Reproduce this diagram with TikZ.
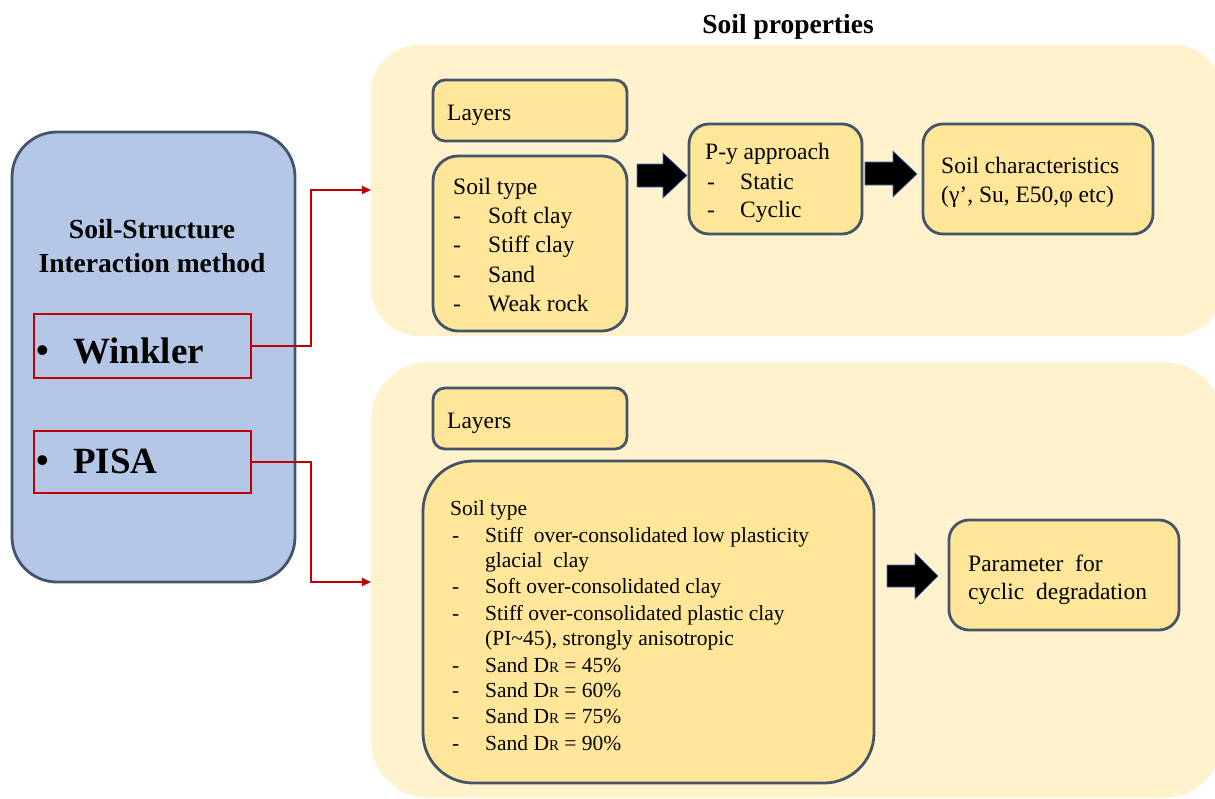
\documentclass[tikz,border=0pt]{standalone}
\usepackage{fontspec}
\setmainfont{Liberation Serif}
\usetikzlibrary{arrows.meta}
\definecolor{bluefill}{HTML}{B4C7E7}
\definecolor{slate}{HTML}{44546A}
\definecolor{bgy}{HTML}{FFF2CC}
\definecolor{boxy}{HTML}{FFE699}
\definecolor{darkred}{HTML}{C00000}
\definecolor{arrowedge}{HTML}{4472C4}
\tikzset{
  panel/.style={fill=bgy, draw=none, rounded corners=#1},
  ybox/.style={draw=slate, fill=boxy, line width=2.8pt, rounded corners=#1, inner sep=0pt},
  bluebox/.style={draw=slate, fill=bluefill, line width=2.8pt, rounded corners=45pt, inner sep=0pt},
  redbox/.style={draw=darkred, line width=2pt, inner sep=0pt},
  redline/.style={draw=darkred, line width=1.8pt, -{Triangle[length=9pt,width=8pt]}},
  blockarrow/.style={fill=black, draw=arrowedge, line width=0.6pt},
  txt/.style={anchor=base west, inner sep=0pt, font=\rmfamily\fontsize{23.5}{27}\selectfont},
  stxt/.style={anchor=base west, inner sep=0pt, font=\rmfamily\fontsize{21.5}{26}\selectfont},
  bigtxt/.style={anchor=base west, inner sep=0pt, font=\rmfamily\bfseries\fontsize{37}{40}\selectfont},
  bul/.style={anchor=base west, inner sep=0pt, font=\rmfamily\bfseries\fontsize{36}{40}\selectfont},
}
\begin{document}
\begin{tikzpicture}[x=1pt,y=-1pt]
\useasboundingbox (0,0) rectangle (1215,798);
% background panels
\begin{scope}
\clip (0,0) rectangle (1215,798);
\path[panel=48pt] (371,45) rectangle (1222,336);
\path[panel=58pt] (371,362) rectangle (1222,798);
\end{scope}
% title
\node[anchor=base, inner sep=0pt, font=\rmfamily\bfseries\fontsize{27.5}{32}\selectfont] (title) at (788,33) {Soil properties};

% left blue box
\path[bluebox] (12,132) rectangle (295,582);
\node[anchor=base, inner sep=0pt, font=\rmfamily\bfseries\fontsize{27.5}{33}\selectfont] (ssi1) at (152,238) {Soil-Structure};
\node[anchor=base, inner sep=0pt, font=\rmfamily\bfseries\fontsize{27.5}{33}\selectfont] (ssi2) at (152,272) {Interaction method};
\node[redbox, minimum width=217pt, minimum height=64pt] (winkler) at (142.5,346) {};
\node[bul] (wbul) at (36,362) {\textbullet};
\node[bigtxt] (wtxt) at (73,363) {Winkler};
\node[redbox, minimum width=217pt, minimum height=62pt] (pisa) at (142.5,462) {};
\node[bul] (pbul) at (36,472) {\textbullet};
\node[bigtxt] (ptxt) at (73,473) {PISA};

\coordinate (topin) at (371,190);
\coordinate (botin) at (371,582);
\draw[redline] (winkler.east) -| (311,190) -- (topin);
\draw[redline] (pisa.east) -| (311,582) -- (botin);

% top row
\node[ybox=12pt, minimum width=194pt, minimum height=61pt] (layers1) at (530,110.5) {};
\node[txt] at (447,120) {Layers};
\node[ybox=25pt, minimum width=194pt, minimum height=175pt] (soil1) at (530,243.5) {};
\node[txt] at (453,194) {Soil type};
\foreach \y/\t in {223/Soft clay, 252/Stiff clay, 282/Sand, 311/Weak rock}{
  \node[txt] at (453,\y) {-};
  \node[txt] at (488,\y) {\t};
}
\node[ybox=20pt, minimum width=173pt, minimum height=110pt] (py) at (775.5,179) {};
\node[txt] at (705,159) {P-y approach};
\node[txt] at (707,189) {-};
\node[txt] at (740,189) {Static};
\node[txt] at (707,217) {-};
\node[txt] at (740,217) {Cyclic};
\node[ybox=20pt, minimum width=230pt, minimum height=110pt] (char) at (1038,179) {};
\node[txt] at (941,173) {Soil characteristics};
\node[txt] at (941,202) {(γ’, Su, E50,φ etc)};

\path[blockarrow] (637,164) -- (663,164) -- (663,153) -- (687,175.5) -- (663,198) -- (663,187) -- (637,187) -- cycle;
\path[blockarrow] (865,162) -- (893,162) -- (893,151) -- (917,174) -- (893,197) -- (893,185) -- (865,185) -- cycle;

% bottom row
\node[ybox=12pt, minimum width=194pt, minimum height=61pt] (layers2) at (530,418.5) {};
\node[txt] at (447,428) {Layers};
\node[ybox=50pt, minimum width=451pt, minimum height=322pt] (soil2) at (648.5,622) {};
\node[stxt] at (450,515) {Soil type};
\foreach \y/\t in {542/Stiff\ \ over-consolidated low plasticity, 593/Soft over-consolidated clay, 620/Stiff over-consolidated plastic clay, 672/Sand D{\fontsize{15}{15}\selectfont R} = 45\%, 697/Sand D{\fontsize{15}{15}\selectfont R} = 60\%, 723/Sand D{\fontsize{15}{15}\selectfont R} = 75\%, 750/Sand D{\fontsize{15}{15}\selectfont R} = 90\%}{
  \node[stxt] at (452,\y) {-};
  \node[stxt] at (485,\y) {\t};
}
\node[stxt] at (485,567) {glacial\ \ clay};
\node[stxt] at (485,645) {(PI\textasciitilde45), strongly anisotropic};
\path[blockarrow] (887,565) -- (915,565) -- (915,553) -- (938,576) -- (915,599) -- (915,587) -- (887,587) -- cycle;
\node[ybox=20pt, minimum width=230pt, minimum height=110pt] (param) at (1064,575) {};
\node[txt] at (968,571) {Parameter\ \ for};
\node[txt] at (968,599) {cyclic\ \ degradation};
\end{tikzpicture}
\end{document}
